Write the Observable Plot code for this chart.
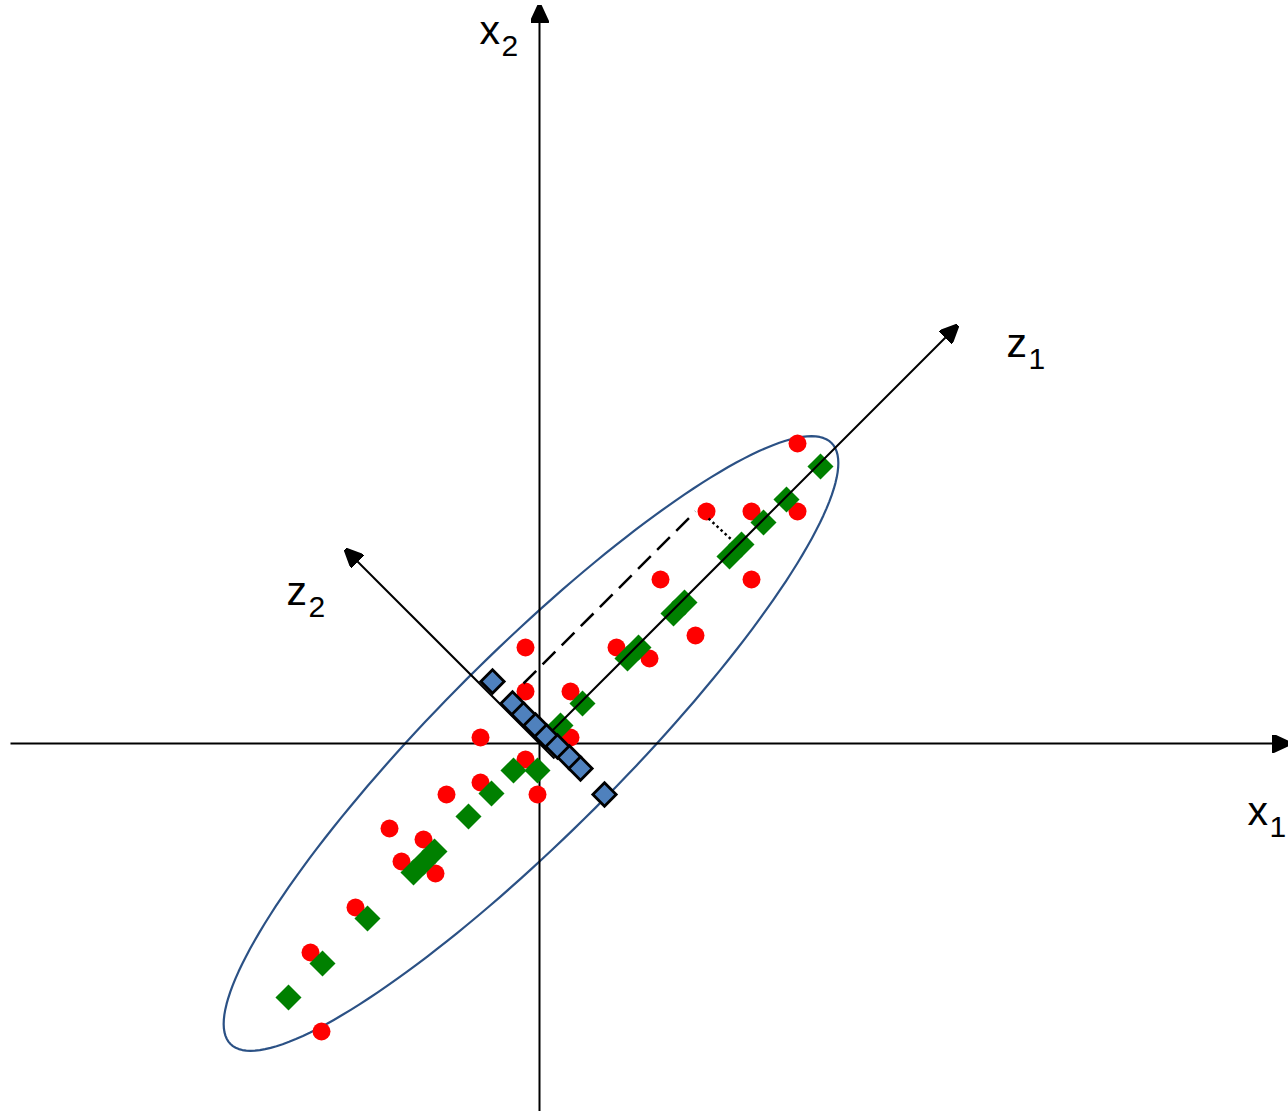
<!DOCTYPE html>
<html>
<head>
<meta charset="utf-8">
<script src="https://cdn.jsdelivr.net/npm/d3@7"></script>
<script src="https://cdn.jsdelivr.net/npm/@observablehq/plot@0.6"></script>
<style>
  html, body { margin: 0; padding: 0; background: #fff; }
  #chart svg { display: block; }
</style>
</head>
<body>
<div id="chart"></div>
<script>
// Coordinates are in plot units centred on the x1/x2 origin (1 unit = 1 px).

// Observed samples (x1, x2)
const samples = [
  [258, 300], [167, 232], [212, 232], [258, 232], [121, 164], [212, 164],
  [77, 96], [110, 85], [156, 108], [-14, 96], [-14, 52], [31, 52],
  [31, 6], [-59, 6], [-59, -39], [-14, -16], [-2, -51], [-93, -51],
  [-150, -85], [-116, -96], [-138, -118], [-104, -130], [-184, -164],
  [-229, -209], [-218, -288]
];

// Projections of the samples onto the first principal axis z1
const projZ1 = [
  [281, 277], [247, 244], [224, 221], [190, 187], [202, 199],
  [134, 130], [145, 141], [88, 85], [99, 96], [43, 40], [21, 18],
  [-26, -27], [-2, -27], [-48, -50], [-71, -73],
  [-126, -129], [-116, -119], [-105, -108],
  [-172, -175], [-217, -220], [-251, -254]
];

// Projections of the samples onto the second principal axis z2
const projZ2 = [
  [-47, 62], [-27, 40], [-16, 29], [-4, 18], [7, 7],
  [18, -3], [30, -14], [41, -25], [65, -51]
];

// Axes: [x1, y1, x2, y2]
const coordAxes = [
  [-529, 0, 749, 0],   // x1
  [0, -368, 0, 737]    // x2
];
const principalAxes = [
  [0, 0, 417, 417],    // z1
  [15, -15, -193, 193] // z2
];

// Guide from a sample to its z1 projection, and the parallel dashed guide
const dashedGuide = [[-16, 60, 156, 232]];
const dottedGuide = [[169, 225, 193, 203]];

// Covariance ellipse: centre, semi-axes, orientation (degrees)
const ellipseCenter = [-8.5, 0];
const ellipseAxes = [425, 91];
const ellipseAngle = 45;

// Axis labels: letter, subscript, anchor (start of letter, baseline)
const axisLabels = [
  {letter: "x", sub: "2", x: -60, y: 700},
  {letter: "x", sub: "1", x: 708, y: -81},
  {letter: "z", sub: "1", x: 467, y: 387},
  {letter: "z", sub: "2", x: -253, y: 139}
];

// Ellipse outline sampled along its parameter
const th = ellipseAngle * Math.PI / 180;
const ellipsePts = d3.range(0, 361, 2).map(deg => {
  const t = deg * Math.PI / 180;
  const u = ellipseAxes[0] * Math.cos(t), v = ellipseAxes[1] * Math.sin(t);
  return {
    x: ellipseCenter[0] + u * Math.cos(th) - v * Math.sin(th),
    y: ellipseCenter[1] + u * Math.sin(th) + v * Math.cos(th)
  };
});

// Filled triangular arrowhead
function arrowHead(color) {
  const m = d3.create("svg:marker")
    .attr("viewBox", "0 -5 10 10")
    .attr("refX", 9)
    .attr("refY", 0)
    .attr("markerUnits", "userSpaceOnUse")
    .attr("markerWidth", 18)
    .attr("markerHeight", 18)
    .attr("orient", "auto");
  m.append("path").attr("d", "M0,-4.6L10,0L0,4.6Z").attr("fill", color);
  return m.node();
}

const seg = arr => arr.map(([x1, y1, x2, y2]) => ({x1, y1, x2, y2}));
const pts = arr => arr.map(([x, y]) => ({x, y}));

const font = "'Liberation Sans', Arial, sans-serif";

const chart = Plot.plot({
  width: 1288,
  height: 1111,
  margin: 0,
  x: {domain: [-539, 749], axis: null},
  y: {domain: [-368, 743], axis: null},
  style: {background: "#fff", fontFamily: font},
  marks: [
    Plot.line(ellipsePts, {x: "x", y: "y", stroke: "#2B5185", strokeWidth: 2.2, curve: "linear-closed"}),
    Plot.link(seg(coordAxes), {x1: "x1", y1: "y1", x2: "x2", y2: "y2", stroke: "black", strokeWidth: 2, markerEnd: arrowHead}),
    Plot.dot(pts(samples), {x: "x", y: "y", r: 9, fill: "#FF0000"}),
    Plot.dot(pts(projZ1), {x: "x", y: "y", symbol: "square", r: 10.4, rotate: 45, fill: "#008000"}),
    Plot.link(seg(principalAxes).slice(0, 1), {x1: "x1", y1: "y1", x2: "x2", y2: "y2", stroke: "black", strokeWidth: 2, markerEnd: arrowHead}),
    Plot.link(seg(dashedGuide), {x1: "x1", y1: "y1", x2: "x2", y2: "y2", stroke: "black", strokeWidth: 2.5, strokeDasharray: "18,9"}),
    Plot.link(seg(dottedGuide), {x1: "x1", y1: "y1", x2: "x2", y2: "y2", stroke: "black", strokeWidth: 2.5, strokeDasharray: "2.5,3"}),
    Plot.link(seg(principalAxes).slice(1), {x1: "x1", y1: "y1", x2: "x2", y2: "y2", stroke: "black", strokeWidth: 2, markerEnd: arrowHead}),
    Plot.dot(pts(projZ2), {x: "x", y: "y", symbol: "square", r: 9.3, rotate: 45, fill: "#4F81BD", stroke: "black", strokeWidth: 2.8}),
    Plot.text(axisLabels, {x: "x", y: "y", text: "letter", fontSize: 41, textAnchor: "start", lineAnchor: "bottom", fill: "black"}),
    Plot.text(axisLabels, {x: "x", y: "y", text: "sub", fontSize: 30, textAnchor: "start", lineAnchor: "bottom", dx: 22, dy: 12, fill: "black"})
  ]
});

document.getElementById("chart").append(chart);
</script>
</body>
</html>
